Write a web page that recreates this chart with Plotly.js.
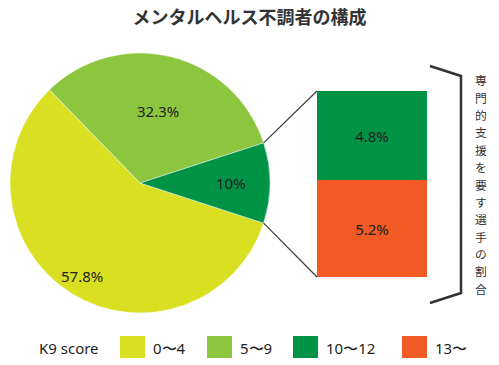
<!DOCTYPE html>
<html><head><meta charset="utf-8">
<script src="https://cdn.plot.ly/plotly-3.0.1.min.js"></script>
<style>html,body{margin:0;padding:0;background:#fff}#chart{width:499px;height:365px}</style>
</head><body><div id="chart"></div>
<script>
// ---- data ----
const title = 'メンタルヘルス不調者の構成';
const pieLabels = ['0〜4', '5〜9', '10〜12'];
const pieValues = [57.8, 32.3, 10];
const pieText = ['57.8%', '32.3%', '10%'];
const barLabels = ['13〜', '10〜12'];
const barValues = [5.2, 4.8];
const barText = ['5.2%', '4.8%'];
const legendTitle = 'K9 score';
const legendLabels = ['0〜4', '5〜9', '10〜12', '13〜'];
const sideLabel = '専門的支援を要す選手の割合';

const colors = {'0〜4': '#D9E021', '5〜9': '#8CC63F', '10〜12': '#009245', '13〜': '#F15A24'};
const W = 499, H = 365;
const px = x => x / W, py = y => 1 - y / H;
const latin = '"Noto Sans", "Open Sans", sans-serif';
const jp = '"Noto Sans CJK JP", sans-serif';

// pie geometry (pixels)
const pie = {cx: 140, cy: 183, r: 130};
const labelRadius = [0.84, 0.57, 0.70];
// bar geometry
const bar = {x0: 317, x1: 427, y0: 91, y1: 277};

const total = pieValues.reduce((a, b) => a + b, 0);
const startDeg = -180 * pieValues[2] / total; // math angle where the first slice starts (clockwise)
const rotation = 90 - startDeg;

const traces = [
  {
    type: 'pie', labels: pieLabels, values: pieValues,
    textinfo: 'none', sort: false, direction: 'clockwise',
    marker: {colors: pieLabels.map(l => colors[l]), line: {color: '#ffffff', width: 0.5}},
    domain: {x: [px(pie.cx - pie.r), px(pie.cx + pie.r)], y: [py(pie.cy + pie.r), py(pie.cy - pie.r)]},
    hole: 0, showlegend: false, rotation: rotation
  }
];
barLabels.forEach((l, i) => {
  traces.push({
    type: 'bar', x: [0], y: [barValues[i]], text: [barText[i]], name: l,
    width: 1, xaxis: 'x', yaxis: 'y', showlegend: false,
    marker: {color: colors[l], line: {width: 0}},
    textposition: 'inside', insidetextanchor: 'middle',
    textfont: {family: latin, size: 15, color: '#231f20'}
  });
});

const half = Math.PI * pieValues[2] / total;
const shapes = [
  {type: 'line', xref: 'paper', yref: 'paper',
   x0: px(pie.cx + pie.r * Math.cos(half)), y0: py(pie.cy - pie.r * Math.sin(half)),
   x1: px(bar.x0), y1: py(bar.y0), line: {color: '#3a3a3a', width: 1.2}},
  {type: 'line', xref: 'paper', yref: 'paper',
   x0: px(pie.cx + pie.r * Math.cos(half)), y0: py(pie.cy + pie.r * Math.sin(half)),
   x1: px(bar.x0), y1: py(bar.y1), line: {color: '#3a3a3a', width: 1.2}},
  {type: 'path', xref: 'paper', yref: 'paper',
   path: `M ${px(430)} ${py(66)} L ${px(461)} ${py(76)} L ${px(461)} ${py(293)} L ${px(430)} ${py(303)}`,
   line: {color: '#333333', width: 2.5}}
];

const annotations = [];
let acc = 0;
pieValues.forEach((v, i) => {
  const mid = (startDeg - 360 * (acc + v / 2) / total) * Math.PI / 180;
  acc += v;
  const rr = pie.r * labelRadius[i];
  annotations.push({text: pieText[i], xref: 'paper', yref: 'paper',
    x: px(pie.cx + rr * Math.cos(mid)), y: py(pie.cy - rr * Math.sin(mid)),
    xanchor: 'center', yanchor: 'middle', showarrow: false,
    font: {family: latin, size: 15, color: '#231f20'}});
});
// vertical side label, one character per row
const chars = sideLabel.split('');
const step = (297 - 71) / chars.length;
chars.forEach((c, i) => {
  annotations.push({text: c, xref: 'paper', yref: 'paper',
    x: px(481), y: py(71 + step * (i + 0.5)), xanchor: 'center', yanchor: 'middle', showarrow: false,
    height: 15, borderpad: 0,
    font: {family: jp, size: 11.8, color: '#333333'}});
});
annotations.push({text: legendTitle, xref: 'paper', yref: 'paper', x: px(37), y: py(348),
  xanchor: 'left', yanchor: 'middle', showarrow: false,
  font: {family: latin, size: 15, color: '#231f20'}});
const swX = [120, 207, 293, 402];
legendLabels.forEach((l, i) => {
  shapes.push({type: 'rect', xref: 'paper', yref: 'paper',
    x0: px(swX[i]), x1: px(swX[i] + 25), y0: py(358), y1: py(336),
    fillcolor: colors[l], line: {width: 0}});
  annotations.push({text: l, xref: 'paper', yref: 'paper', x: px(swX[i] + 31), y: py(348),
    xanchor: 'left', yanchor: 'middle', showarrow: false,
    font: {family: latin, size: 15, color: '#231f20'}});
});

const layout = {
  width: W, height: H, margin: {l: 0, r: 0, t: 0, b: 0},
  paper_bgcolor: '#ffffff', plot_bgcolor: 'rgba(0,0,0,0)',
  title: {text: '<b>' + title + '</b>', x: 0.5, xanchor: 'center', y: py(18), yanchor: 'middle',
    font: {family: jp, size: 18, color: '#333333'}},
  barmode: 'stack', showlegend: false,
  xaxis: {domain: [px(bar.x0), px(bar.x1)], range: [-0.5, 0.5], visible: false, fixedrange: true},
  yaxis: {domain: [py(bar.y1), py(bar.y0)], range: [0, 10], visible: false, fixedrange: true},
  shapes: shapes, annotations: annotations
};
Plotly.newPlot('chart', traces, layout, {displayModeBar: false, staticPlot: true});
</script></body></html>
